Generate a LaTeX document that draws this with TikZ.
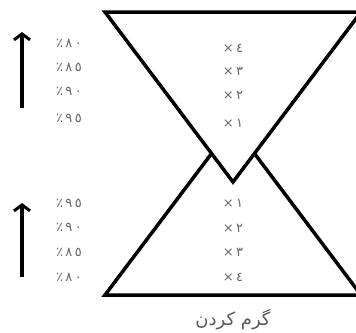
\documentclass[tikz,border=0pt]{standalone}
\usepackage{fontspec}
\newfontfamily\arabicfont[Script=Arabic]{DejaVu Sans}
\newfontfamily\numfont[Script=Arabic, LetterSpace=18]{DejaVu Sans}
\TeXXeTstate=1
\usetikzlibrary{arrows.meta}
\begin{document}
\begin{tikzpicture}[x=1pt, y=-1pt,
    tri/.style={line width=3.5pt, line join=miter},
    lbl/.style={font=\numfont\fontsize{13}{13}\selectfont, text=black!60, inner sep=0pt},
    rise/.style={-{Straight Barb[length=6pt, width=16pt, line width=3pt]}, line width=3.2pt}]
    \useasboundingbox (0,0) rectangle (356,332);
    \clip (0,0) rectangle (356,332);
    \draw[tri] (105,295) -- (233,125) -- (361,295) -- cycle; % lower
    \draw[tri, fill=white] (105,12) -- (361,12) -- (233,182) -- cycle; % upper
    % arrows
    \coordinate (a1) at (22,108); \coordinate (b1) at (22,32);
    \coordinate (a2) at (22,277); \coordinate (b2) at (22,203);
    \draw[rise] (a1) -- (b1);
    \draw[rise] (a2) -- (b2);
    % percentages
    \node[lbl] (p1) at (69,43) {٨٠٪}; \node[lbl] (p2) at (69,67) {٨٥٪};
    \node[lbl] (p3) at (69,91) {٩٠٪}; \node[lbl] (p4) at (69,118) {٩٥٪};
    \node[lbl] (q1) at (69,203) {٩٥٪}; \node[lbl] (q2) at (69,227) {٩٠٪};
    \node[lbl] (q3) at (69,252) {٨٥٪}; \node[lbl] (q4) at (69,277) {٨٠٪};
    % factors
    \node[lbl] (m4) at (233,48) {٤×}; \node[lbl] (m3) at (233,71) {٣×};
    \node[lbl] (m2) at (233,95) {٢×}; \node[lbl] (m1) at (233,123) {١×};
    \node[lbl] (n1) at (233,203) {١×}; \node[lbl] (n2) at (233,228) {٢×};
    \node[lbl] (n3) at (233,252) {٣×}; \node[lbl] (n4) at (233,277) {٤×};
    \node[font=\arabicfont\fontsize{18}{18}\selectfont, text=black!65] (heat) at (233,320) {\beginR گرم کردن\endR};
\end{tikzpicture}
\end{document}
